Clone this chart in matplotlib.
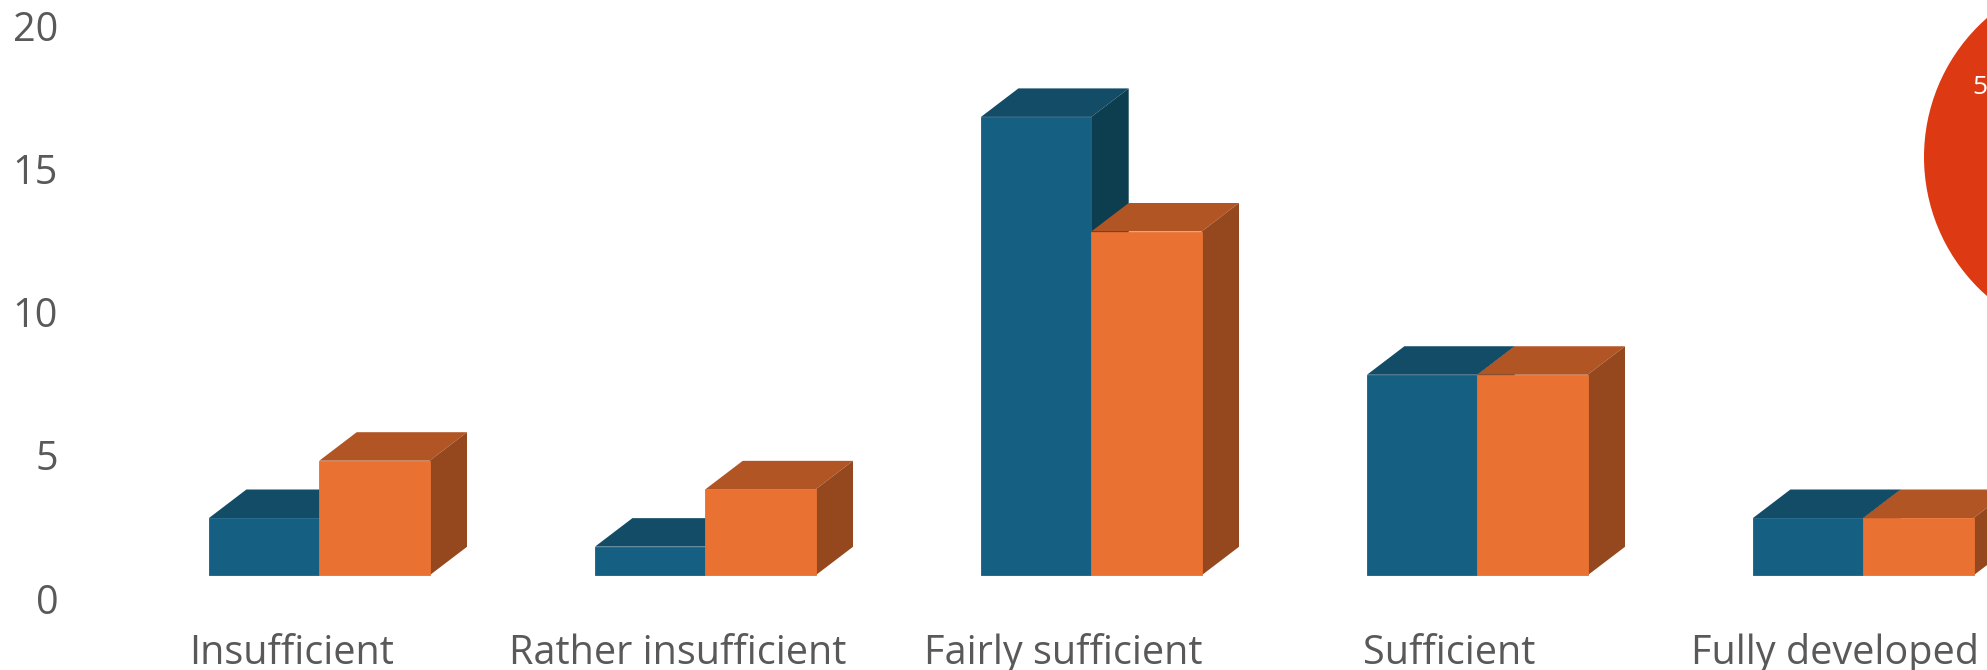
import numpy as np
import matplotlib
matplotlib.use("Agg")
import matplotlib.pyplot as plt
from matplotlib.patches import Ellipse, Polygon
from matplotlib.transforms import ScaledTranslation

plt.rcParams['font.family'] = ['Open Sans', 'DejaVu Sans']

categories = ['Insufficient', 'Rather insufficient', 'Fairly sufficient', 'Sufficient', 'Fully developed']
blue_values = [2, 1, 16, 7, 2]
orange_values = [4, 3, 12, 7, 2]
y_ticks = [0, 5, 10, 15, 20]

BLUE = ('#156082', '#124C67', '#0C3E50')
ORANGE = ('#E97132', '#B25525', '#95481E')
TEXT = '#595959'

# pixel sizes of the reference
W, H = 1987, 670
group_px = 386.0
unit_px = 28.65
base_x_px = 319.3
base_y_px = 575.3

bar_w = 110.3 / group_px
depth_x = 37.4 / group_px
depth_y = 28.5 / unit_px

fig = plt.figure(figsize=(W / 100, H / 100), dpi=100)
ax = fig.add_axes([0, 0, 1, 1])
ax.set_xlim(-base_x_px / group_px, (W - base_x_px) / group_px)
ax.set_ylim(-(H - base_y_px) / unit_px, base_y_px / unit_px)
for s in ax.spines.values():
    s.set_visible(False)


def draw_bars(x, values, colors, z):
    # fake 3D look: top and side faces, then the front from ax.bar
    for xi, v in zip(x, values):
        left, right = xi, xi + bar_w
        top = [(left, v), (right, v), (right + depth_x, v + depth_y), (left + depth_x, v + depth_y)]
        side = [(right, 0), (right + depth_x, depth_y), (right + depth_x, v + depth_y), (right, v)]
        ax.add_patch(Polygon(top, closed=True, fc=colors[1], ec='none', zorder=z))
        ax.add_patch(Polygon(side, closed=True, fc=colors[2], ec='none', zorder=z))
    ax.bar(x, values, width=bar_w, align='edge', color=colors[0], edgecolor=colors[0],
           linewidth=0.6, zorder=z + 0.1)


x = np.arange(len(categories))
draw_bars(x - bar_w, blue_values, BLUE, 2)
draw_bars(x, orange_values, ORANGE, 3)

# axis labels sit away from the bars in the original
ax.set_yticks(y_ticks)
ax.set_xticks(x)
ax.set_xticklabels(categories)
ax.tick_params(length=0, labelsize=28.5, labelcolor=TEXT)
y_shift = ScaledTranslation(63 / 100, -23 / 100, fig.dpi_scale_trans)
for t in ax.get_yticklabels():
    t.set_transform(t.get_transform() + y_shift)
x_shift = ScaledTranslation(-28 / 100, 10.9 / 100, fig.dpi_scale_trans)
for t in ax.get_xticklabels():
    t.set_transform(t.get_transform() + x_shift)
    t.set_va('baseline')

# pie from the neighbouring chart, cut off by the image edge
ax_over = fig.add_axes([0, 0, 1, 1], facecolor='none')
ax_over.set_xlim(0, W)
ax_over.set_ylim(H, 0)
ax_over.axis('off')
ax_over.add_patch(Ellipse((2109, 157), 370, 370, fc='#DD3912', ec='none'))
ax_over.text(1972, 94, '5', color='white', fontsize=19, ha='left', va='baseline')

fig.savefig('out.png', dpi=100)
